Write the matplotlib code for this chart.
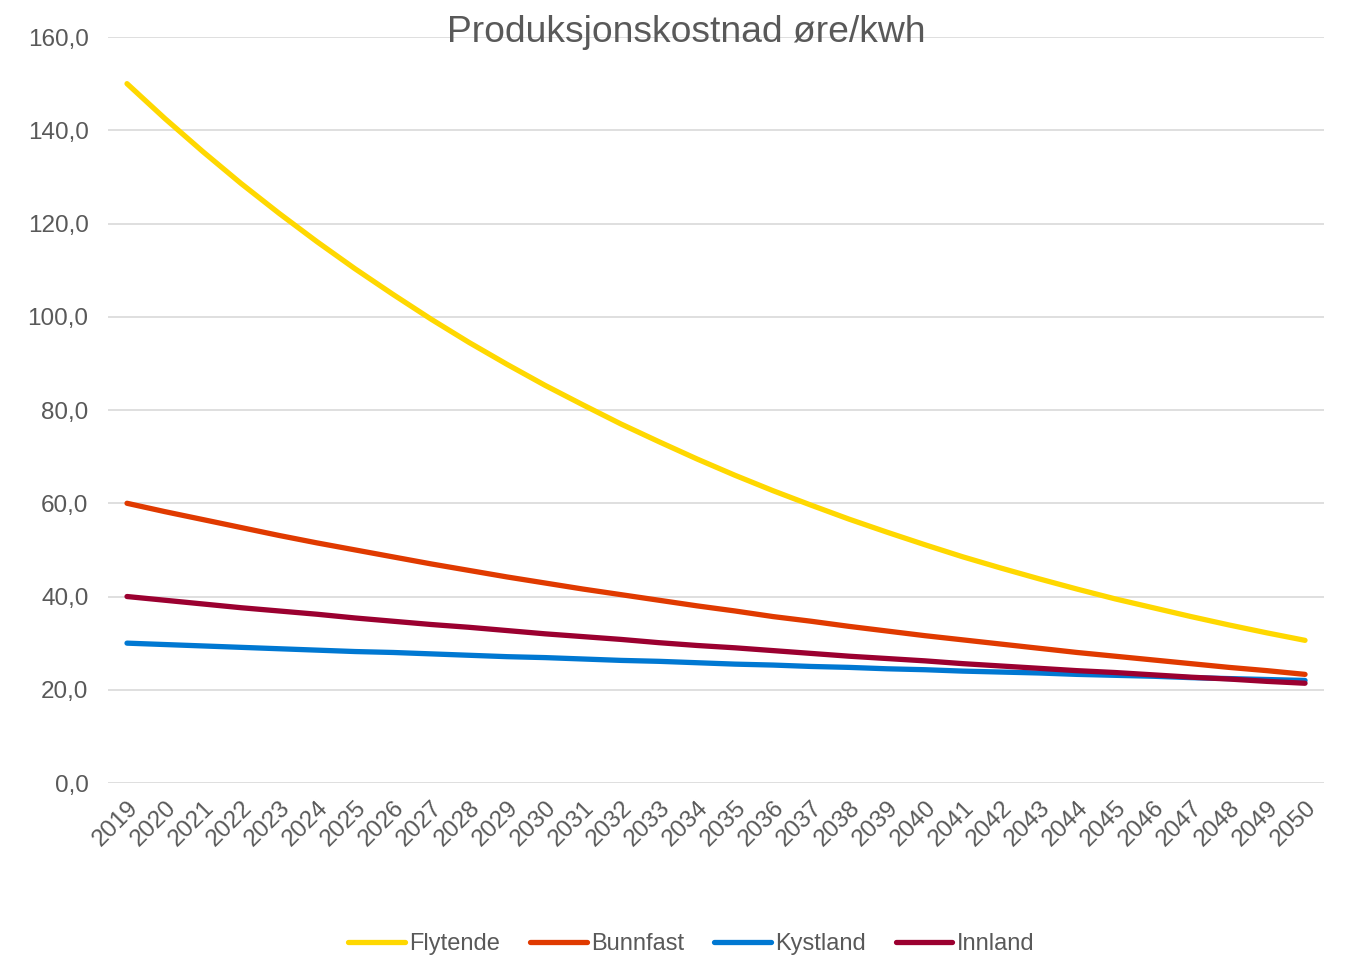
import matplotlib.pyplot as plt
from matplotlib.ticker import FuncFormatter

plt.rcParams['font.family'] = ['Liberation Sans', 'DejaVu Sans']

# Datos
aar = [str(a) for a in range(2019, 2051)]

flytende = [150.0, 142.5, 135.4, 128.6, 122.2, 116.1, 110.3, 104.8, 99.5, 94.5,
            89.8, 85.3, 81.1, 77.0, 73.2, 69.5, 66.0, 62.7, 59.6, 56.6,
            53.8, 51.1, 48.5, 46.1, 43.8, 41.6, 39.5, 37.6, 35.7, 33.9,
            32.2, 30.6]
bunnfast = [60.0, 58.2, 56.5, 54.8, 53.1, 51.5, 50.0, 48.5, 47.0, 45.6,
            44.2, 42.9, 41.6, 40.4, 39.2, 38.0, 36.9, 35.7, 34.7, 33.6,
            32.6, 31.6, 30.7, 29.8, 28.9, 28.0, 27.2, 26.4, 25.6, 24.8,
            24.1, 23.3]
kystland = [30.0, 29.7, 29.4, 29.1, 28.8, 28.5, 28.2, 28.0, 27.7, 27.4,
            27.1, 26.9, 26.6, 26.3, 26.1, 25.8, 25.5, 25.3, 25.0, 24.8,
            24.5, 24.3, 24.0, 23.8, 23.6, 23.3, 23.1, 22.9, 22.6, 22.4,
            22.2, 22.0]
innland = [40.0, 39.2, 38.4, 37.6, 36.9, 36.2, 35.4, 34.7, 34.0, 33.4,
           32.7, 32.0, 31.4, 30.8, 30.1, 29.5, 29.0, 28.4, 27.8, 27.2,
           26.7, 26.2, 25.6, 25.1, 24.6, 24.1, 23.7, 23.2, 22.7, 22.3,
           21.8, 21.4]

serier = ["Flytende", "Bunnfast", "Kystland", "Innland"]
farger = ["#FFD800", "#E03A00", "#0078D2", "#9B0030"]
tekst = "#595959"

fig = plt.figure(figsize=(13.45, 9.57), dpi=100)
ax = fig.add_axes([0.0803, 0.1818, 0.9041, 0.7795])

x = range(len(aar))
for navn, verdier, farge in zip(serier, [flytende, bunnfast, kystland, innland], farger):
    ax.plot(x, verdier, color=farge, linewidth=3.8, solid_capstyle='round', label=navn)

ax.set_xlim(-0.5, len(aar) - 0.5)
ax.set_ylim(0, 160)
ax.set_yticks(range(0, 161, 20))
ax.yaxis.set_major_formatter(FuncFormatter(lambda v, p: f"{v:.1f}".replace(".", ",")))
ax.set_xticks(list(x))
ax.set_xticklabels(aar, rotation=45, ha='right', rotation_mode='anchor')

ax.grid(axis='y', color='#D9D9D9', linewidth=1.2)
ax.set_axisbelow(True)
for s in ax.spines.values():
    s.set_visible(False)
ax.tick_params(length=0, labelsize=17.5, colors=tekst)
ax.tick_params(axis='y', pad=14)
ax.tick_params(axis='x', pad=10)

fig.text(0.510, 0.966, "Produksjonskostnad øre/kwh", ha='center', va='center',
         fontsize=26.8, color=tekst)

leg = fig.legend(loc='center', bbox_to_anchor=(0.514, 0.0135), ncol=4, frameon=False,
                 fontsize=17, handlelength=2.4, handletextpad=0.2, columnspacing=1.25)
for t in leg.get_texts():
    t.set_color(tekst)

plt.savefig("out.png", dpi=100)
